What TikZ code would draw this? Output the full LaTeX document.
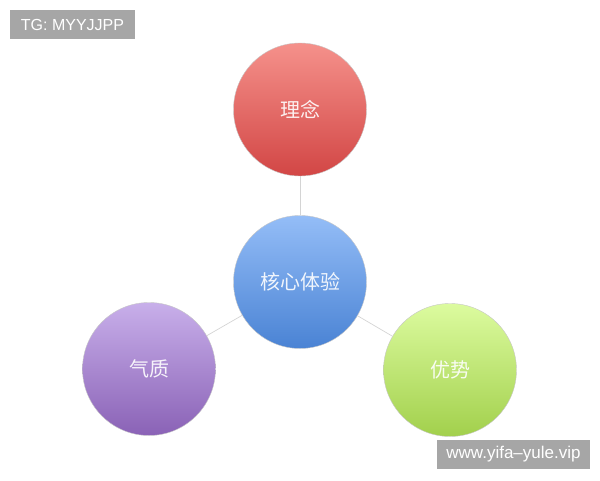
\documentclass[tikz,border=0pt]{standalone}
\usepackage{fontspec}
\setmainfont{Liberation Sans}
\newfontfamily\cjk{Noto Sans CJK SC}
\definecolor{boxgray}{HTML}{A6A6A6}
\definecolor{linegray}{HTML}{D4D4D4}
\definecolor{redtop}{HTML}{F5918B}
\definecolor{redbot}{HTML}{D24645}
\definecolor{bluetop}{HTML}{94BDF7}
\definecolor{bluebot}{HTML}{4A83D4}
\definecolor{purtop}{HTML}{C8AFEA}
\definecolor{purbot}{HTML}{8A62B6}
\definecolor{grntop}{HTML}{DCFB9F}
\definecolor{grnbot}{HTML}{A2D04C}
\tikzset{
  ball/.style={circle, minimum size=133pt, inner sep=0pt, draw=black!22, line width=0.4pt,
    text=white, text opacity=0.9, font=\cjk\fontsize{20}{23}\selectfont},
  tag/.style={fill=boxgray, text=white, inner sep=0pt, font=\fontsize{16}{19}\selectfont},
  link/.style={draw=linegray, line width=0.7pt}
}
\begin{document}
\begin{tikzpicture}[x=1pt,y=1pt]
\useasboundingbox (0,0) rectangle (600,480);
\node[ball, top color=redtop, bottom color=redbot] (t) at (300,370.5) {理念};
\node[ball, top color=bluetop, bottom color=bluebot] (c) at (300,198) {核心体验};
\node[ball, top color=purtop, bottom color=purbot] (l) at (149,111) {气质};
\node[ball, top color=grntop, bottom color=grnbot] (r) at (450,110) {优势};
\draw[link] (c) -- (t);
\draw[link] (c) -- (l);
\draw[link] (c) -- (r);
\node[tag, minimum width=125pt, minimum height=29pt] (tg) at (72.5,455.5) {TG: MYYJJPP};
\node[tag, minimum width=153pt, minimum height=29pt, font=\fontsize{17}{20}\selectfont] (wm) at (513.5,25.5) {www.yifa–yule.vip};
\end{tikzpicture}
\end{document}
